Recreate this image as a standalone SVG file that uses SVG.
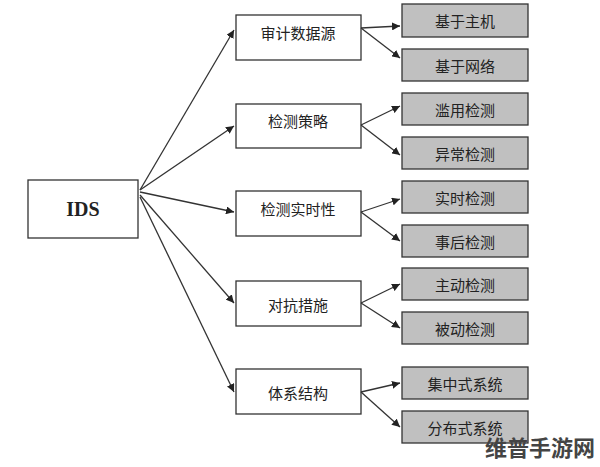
<svg xmlns="http://www.w3.org/2000/svg" width="600" height="467" viewBox="0 0 600 467">
<style>
.m{fill:#fff;stroke:#333;stroke-width:1.3}
.r{fill:#c0c0c0;stroke:#333;stroke-width:1.3}
text{font-family:"Noto Sans CJK SC",sans-serif;font-size:15px;fill:#222;text-anchor:middle;dominant-baseline:central}
.c line{stroke:#333;stroke-width:1.3;marker-end:url(#a)}
</style>
<defs><marker id="a" viewBox="0 0 10 10" refX="10" refY="5" markerWidth="8" markerHeight="8" markerUnits="userSpaceOnUse" orient="auto"><path d="M0,0L10,5L0,10z" fill="#222"/></marker></defs>
<rect width="600" height="467" fill="#fff"/>
<g id="ids"><rect class="m" x="28" y="180" width="110" height="58"/><text x="83" y="209" style="font-family:'Liberation Serif',serif;font-weight:bold;font-size:20px">IDS</text></g>
<g id="m1"><rect class="m" x="236" y="15" width="125" height="45"/><text x="298" y="32">审计数据源</text></g>
<g id="m2"><rect class="m" x="236" y="104" width="125" height="44"/><text x="298" y="120">检测策略</text></g>
<g id="m3"><rect class="m" x="236" y="191" width="125" height="45"/><text x="298" y="208">检测实时性</text></g>
<g id="m4"><rect class="m" x="236" y="281" width="125" height="45"/><text x="298" y="304">对抗措施</text></g>
<g id="m5"><rect class="m" x="236" y="369" width="125" height="45"/><text x="298" y="392">体系结构</text></g>
<g id="r1"><rect class="r" x="402" y="4" width="126" height="33"/><text x="465" y="20">基于主机</text></g>
<g id="r2"><rect class="r" x="402" y="49" width="126" height="32"/><text x="465" y="65">基于网络</text></g>
<g id="r3"><rect class="r" x="402" y="93" width="126" height="32"/><text x="465" y="109">滥用检测</text></g>
<g id="r4"><rect class="r" x="402" y="137" width="126" height="32"/><text x="465" y="153">异常检测</text></g>
<g id="r5"><rect class="r" x="402" y="181" width="126" height="32"/><text x="465" y="197">实时检测</text></g>
<g id="r6"><rect class="r" x="402" y="225" width="126" height="32"/><text x="465" y="241">事后检测</text></g>
<g id="r7"><rect class="r" x="402" y="268" width="126" height="32"/><text x="465" y="284">主动检测</text></g>
<g id="r8"><rect class="r" x="402" y="312" width="126" height="32"/><text x="465" y="328">被动检测</text></g>
<g id="r9"><rect class="r" x="402" y="367" width="126" height="32"/><text x="465" y="383">集中式系统</text></g>
<g id="r10"><rect class="r" x="402" y="411" width="126" height="32"/><text x="465" y="427">分布式系统</text></g>
<g class="c">
<line x1="140" y1="190" x2="234" y2="30"/>
<line x1="140" y1="190" x2="234" y2="126"/>
<line x1="140" y1="192" x2="234" y2="212"/>
<line x1="140" y1="195" x2="234" y2="303"/>
<line x1="140" y1="197" x2="234" y2="392"/>
<line x1="361" y1="28" x2="400" y2="26"/>
<line x1="361" y1="28" x2="400" y2="58"/>
<line x1="361" y1="125" x2="400" y2="106"/>
<line x1="361" y1="125" x2="400" y2="155"/>
<line x1="361" y1="212" x2="400" y2="199"/>
<line x1="361" y1="212" x2="400" y2="241"/>
<line x1="361" y1="303" x2="400" y2="284"/>
<line x1="361" y1="303" x2="400" y2="328"/>
<line x1="361" y1="392" x2="400" y2="383"/>
<line x1="361" y1="392" x2="400" y2="427"/>
</g>
<text x="540" y="446" style="font-size:22px;font-weight:bold;fill:#444">维普手游网</text>
</svg>
